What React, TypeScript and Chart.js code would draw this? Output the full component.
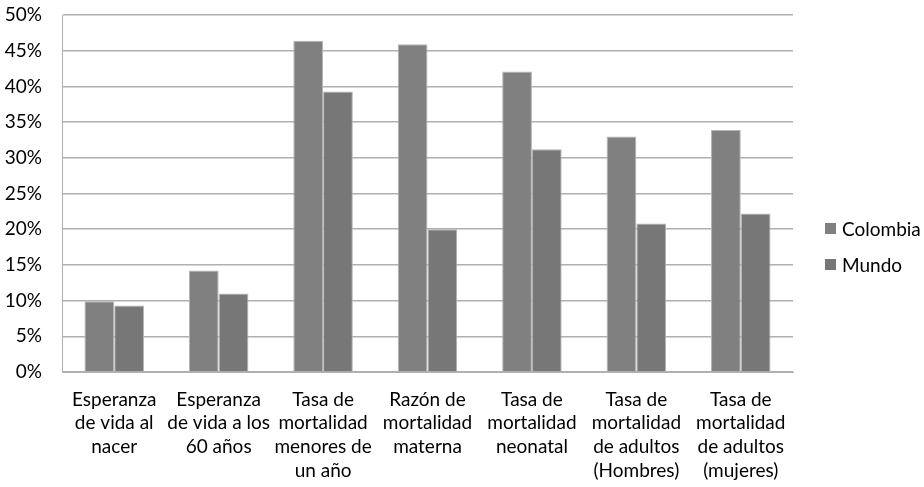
import React, { useEffect, useRef } from "react";
import { Chart, registerables } from "chart.js";

Chart.register(...registerables);

const categories: string[][] = [
  ["Esperanza", "de vida al", "nacer"],
  ["Esperanza", "de vida a los", "60 años"],
  ["Tasa de", "mortalidad", "menores de", "un año"],
  ["Razón de", "mortalidad", "materna"],
  ["Tasa de", "mortalidad", "neonatal"],
  ["Tasa de", "mortalidad", "de adultos", "(Hombres)"],
  ["Tasa de", "mortalidad", "de adultos", "(mujeres)"],
];

const colombia: number[] = [9.9, 14.2, 46.4, 45.9, 42.1, 33.0, 33.9];
const mundo: number[] = [9.3, 11.0, 39.3, 20.0, 31.2, 20.8, 22.2];

const seriesNames = ["Colombia", "Mundo"];
const yTicks: number[] = [0, 5, 10, 15, 20, 25, 30, 35, 40, 45, 50];

const FONT = "Lato, 'Liberation Sans', sans-serif";

const sideLegend = {
  id: "sideLegend",
  afterDraw(chart: any) {
    const ctx = chart.ctx;
    const area = chart.chartArea;
    const ds = chart.data.datasets;
    const x = area.right + 32;
    const spacing = 36;
    const midY = (area.top + area.bottom) / 2 + 53;
    const startY = midY - ((ds.length - 1) * spacing) / 2;
    ctx.save();
    ctx.font = `19px ${FONT}`;
    ctx.textBaseline = "middle";
    ctx.textAlign = "left";
    ds.forEach((d: any, i: number) => {
      const y = startY + i * spacing;
      ctx.fillStyle = d.backgroundColor;
      ctx.fillRect(x, y - 5.5, 11, 11);
      ctx.fillStyle = "#000";
      ctx.fillText(d.label, x + 17, y + 1);
    });
    ctx.restore();
  },
};

export default function App() {
  const ref = useRef<HTMLCanvasElement | null>(null);

  useEffect(() => {
    if (!ref.current) return;
    const chart = new Chart(ref.current, {
      type: "bar",
      data: {
        labels: categories,
        datasets: [
          {
            label: seriesNames[0],
            data: colombia,
            backgroundColor: "#808080",
            borderColor: "#b4b4b4",
            borderWidth: 1,
            categoryPercentage: 0.57,
            barPercentage: 1.0,
          },
          {
            label: seriesNames[1],
            data: mundo,
            backgroundColor: "#777777",
            borderColor: "#b4b4b4",
            borderWidth: 1,
            categoryPercentage: 0.57,
            barPercentage: 1.0,
          },
        ],
      },
      plugins: [sideLegend],
      options: {
        animation: false,
        responsive: false,
        maintainAspectRatio: false,
        layout: { padding: { left: 0, top: 0, right: 131, bottom: 0 } },
        plugins: {
          tooltip: { enabled: false },
          legend: { display: false },
        },
        scales: {
          x: {
            afterFit: (axis: any) => {
              axis.height = 115;
            },
            grid: { display: false, drawTicks: false },
            border: { display: true, color: "#b0b0b0", width: 1 },
            ticks: {
              color: "#000",
              padding: 16,
              maxRotation: 0,
              autoSkip: false,
              font: { family: FONT, size: 19, lineHeight: 1.24 },
            },
          },
          y: {
            min: 0,
            max: 50,
            afterFit: (axis: any) => {
              axis.width = 62;
              axis.paddingTop = 15;
              axis.paddingBottom = 0;
            },
            afterBuildTicks: (axis: any) => {
              axis.ticks = yTicks.map((v) => ({ value: v }));
            },
            grid: { color: "#b0b0b0", lineWidth: 1.5, drawTicks: false },
            border: { display: true, color: "#b0b0b0", width: 1 },
            ticks: {
              color: "#000",
              padding: 20,
              callback: (v: any) => v + "%",
              font: { family: FONT, size: 19 },
            },
          },
        },
      },
    });
    return () => chart.destroy();
  }, []);

  return (
    <div style={{ position: "absolute", left: 0, top: 0, width: 924, height: 487, background: "#fff" }}>
      <canvas ref={ref} width={924} height={487} style={{ width: 924, height: 487 }} />
    </div>
  );
}
